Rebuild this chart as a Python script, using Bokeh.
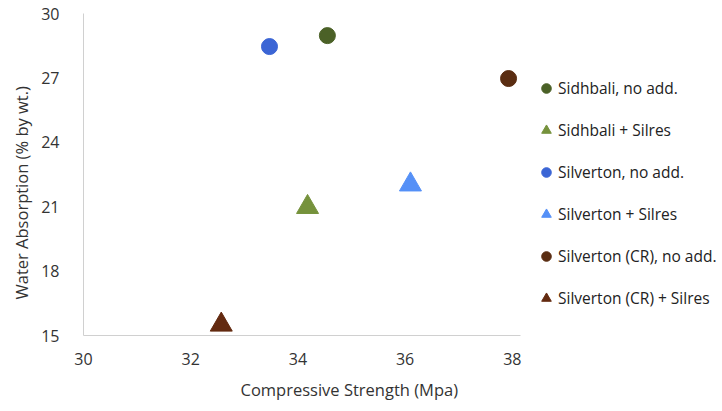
from bokeh.plotting import figure
from bokeh.models import Legend, LegendItem, Range1d, FixedTicker, Title
from bokeh.embed import file_html
from bokeh.resources import INLINE

# ---- data ----
series_names = ["Sidhbali, no add.", "Sidhbali + Silres", "Silverton, no add.",
                "Silverton + Silres", "Silverton (CR), no add.", "Silverton (CR) + Silres"]
strength = [34.55, 34.18, 33.47, 36.1, 37.93, 32.57]
absorption = [28.97, 20.98, 28.46, 22.03, 26.97, 15.5]
markers = ["circle", "triangle", "circle", "triangle", "circle", "triangle"]
colors = ["#4B6127", "#76923C", "#3B65D5", "#5590F7", "#5A2D12", "#632A10"]
x_ticks = [30, 32, 34, 36, 38]
y_ticks = [15, 18, 21, 24, 27, 30]

FONT = "Open Sans"
PX_PER_UNIT = 53.6
X_MAX = 30 + (722 - 83) / PX_PER_UNIT

p = figure(width=722, height=411, output_backend="svg", toolbar_location=None,
           x_range=Range1d(30, X_MAX), y_range=Range1d(15, 30),
           min_border_left=83, min_border_right=0, min_border_top=13, min_border_bottom=76)
p.outline_line_color = None
p.grid.visible = False
p.background_fill_color = "white"

for ax in (p.xaxis[0], p.yaxis[0]):
    ax.axis_line_color = "#D0D0D0"
    ax.axis_line_width = 1
    ax.major_tick_line_color = None
    ax.minor_tick_line_color = None
    ax.major_label_text_font = FONT
    ax.major_label_text_font_size = "16px"
    ax.major_label_text_color = "#333333"

p.xaxis[0].ticker = FixedTicker(ticks=x_ticks)
p.yaxis[0].ticker = FixedTicker(ticks=y_ticks)
p.xaxis[0].bounds = (30, 38.15)
p.xaxis[0].major_label_standoff = 11
p.yaxis[0].major_label_standoff = 18

items = []
for name, xv, yv, mk, c in zip(series_names, strength, absorption, markers, colors):
    size = 16 if mk == "circle" else 22
    r = p.scatter(x=[xv], y=[yv], marker=mk, size=size, fill_color=c, line_color=c)
    items.append(LegendItem(label=name, renderers=[r]))

legend = Legend(items=items, location=(451, 25), orientation="vertical",
                label_text_font=FONT, label_text_font_size="15.5px", label_text_color="#222222",
                glyph_width=24, glyph_height=24, label_height=24, spacing=18,
                padding=0, margin=0, border_line_color=None, background_fill_alpha=0,
                label_standoff=0)
p.add_layout(legend, "center")

xtitle = Title(text="Compressive Strength (Mpa)", align="left", offset=157,
               text_font=FONT, text_font_size="16.5px", text_font_style="normal",
               text_color="#333333", standoff=16)
ytitle = Title(text="Water Absorption (% by wt.)", align="left", offset=36,
               text_font=FONT, text_font_size="16.5px", text_font_style="normal",
               text_color="#333333", standoff=11)
p.add_layout(xtitle, "below")
p.add_layout(ytitle, "left")

open("out.html", "w").write(file_html(p, INLINE))
